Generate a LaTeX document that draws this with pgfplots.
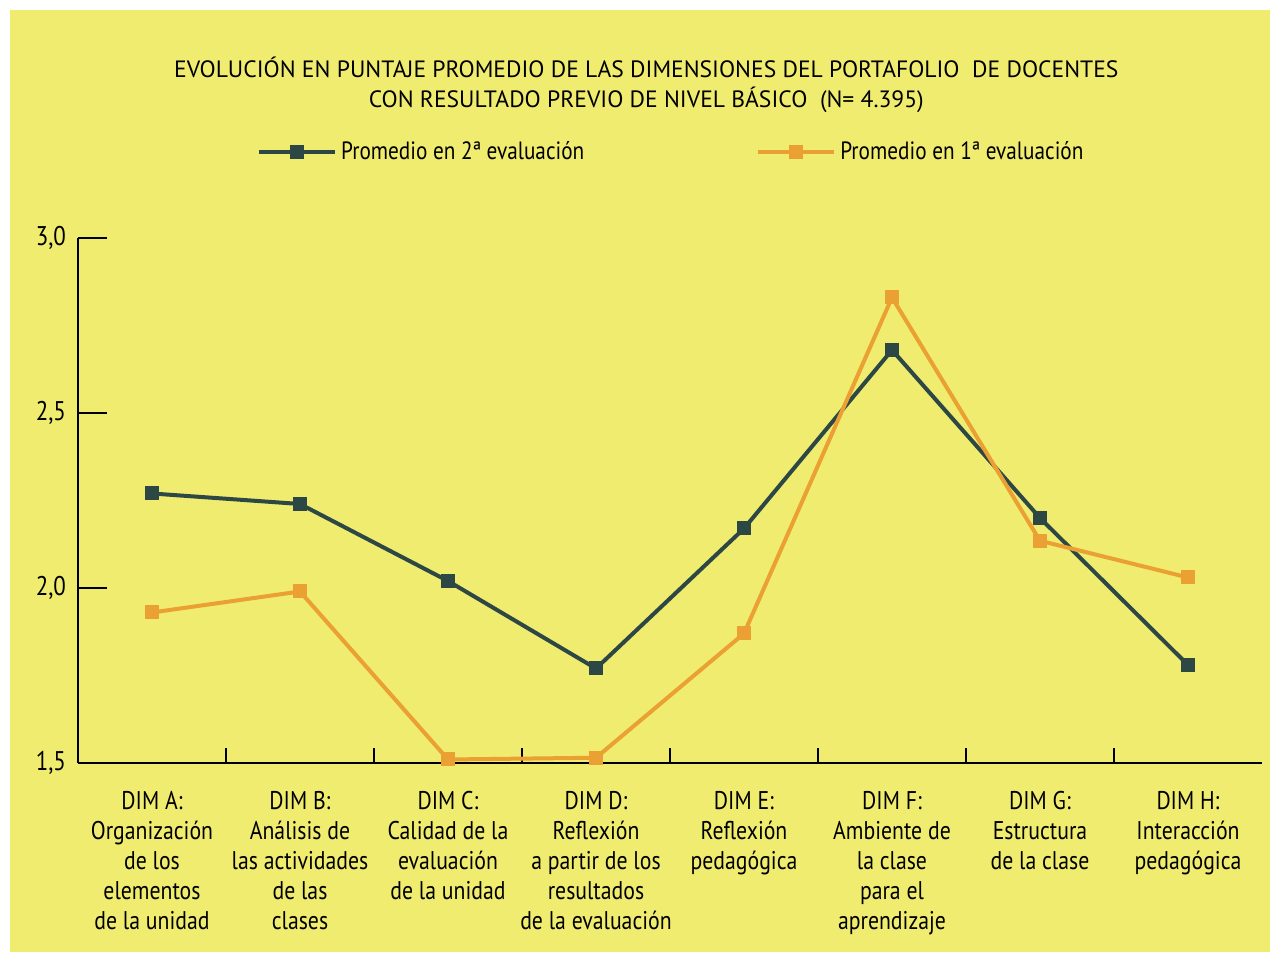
\documentclass[border=0pt]{standalone}
\usepackage{pgfplots}
\pgfplotsset{compat=1.18}
\usepackage{fontspec}
\setmainfont{PT Sans}[FakeStretch=0.85]
\newfontfamily\titlefont{PT Sans}
\definecolor{bgyel}{RGB}{240,236,112}
\definecolor{darkser}{RGB}{45,72,68}
\definecolor{orser}{RGB}{234,160,50}
\begin{document}
\begin{tikzpicture}
\fill[white] (0,0) rectangle (637pt,478.5pt);
\fill[bgyel] (5pt,2.5pt) rectangle (635pt,473.5pt);
\begin{axis}[
 at={(39pt,97pt)}, anchor=south west,
 scale only axis, width=592pt, height=262.5pt,
 xmin=-0.5, xmax=7.5, ymin=1.5, ymax=3.0,
 clip=false,
 axis lines=left, axis line style={-, line width=1.4pt, black},
 tick align=inside,
 xtick={0,...,7},
 xticklabels={{DIM A:\\Organización\\de los\\elementos\\de la unidad},
   {DIM B:\\Análisis de\\las actividades\\de las\\clases},
   {DIM C:\\Calidad de la\\evaluación\\de la unidad},
   {DIM D:\\Reflexión\\a partir de los\\resultados\\de la evaluación},
   {DIM E:\\Reflexión\\pedagógica},
   {DIM F:\\Ambiente de\\la clase\\para el\\aprendizaje},
   {DIM G:\\Estructura\\de la clase},
   {DIM H:\\Interacción\\pedagógica}},
 major tick length=0pt,
 minor xtick={0.5,1.5,...,6.5},
 minor tick length=7.5pt,
 ytick={1.5,2.0,2.5,3.0},
 ytick style={/pgfplots/major tick length=14.5pt},
 every tick/.style={black, line width=1.4pt},
 xticklabel style={font=\fontsize{12.8}{15}\selectfont, align=center, anchor=north, yshift=-10.5pt},
 yticklabel style={font=\fontsize{13.5}{15}\selectfont, xshift=-2.5pt,
   /pgf/number format/.cd, fixed, fixed zerofill, precision=1, use comma},
 /pgf/number format/assume math mode=true,
 title={EVOLUCIÓN EN PUNTAJE PROMEDIO DE LAS DIMENSIONES DEL PORTAFOLIO \ DE DOCENTES\\CON RESULTADO PREVIO DE NIVEL BÁSICO \ (N= 4.395)},
 title style={at={(axis description cs:0.48,1.268)}, anchor=center, align=center,
   font=\titlefont\fontsize{11.8}{15}\selectfont},
 legend columns=2,
 legend style={at={(axis description cs:0.151,1.164)}, anchor=west, draw=none, fill=none,
   inner sep=0pt, font=\fontsize{12.5}{15}\selectfont,
   /tikz/every even column/.append style={column sep=84pt}},
 legend image code/.code={\draw[#1,mark repeat=2,mark phase=2] plot coordinates {(0pt,0pt) (19pt,0pt) (38pt,0pt)};},
 every axis plot/.append style={line width=2pt, mark=square*, mark size=3.25pt, mark options={solid, line width=0.5pt}},
]
\addplot[color=darkser] coordinates {(0,2.27) (1,2.24) (2,2.02) (3,1.77) (4,2.17) (5,2.68) (6,2.20) (7,1.78)};
\addlegendentry{Promedio en 2ª evaluación}
\addplot[color=orser] coordinates {(0,1.93) (1,1.99) (2,1.51) (3,1.515) (4,1.87) (5,2.83) (6,2.135) (7,2.03)};
\addlegendentry{Promedio en 1ª evaluación}
\end{axis}
\end{tikzpicture}
\end{document}
